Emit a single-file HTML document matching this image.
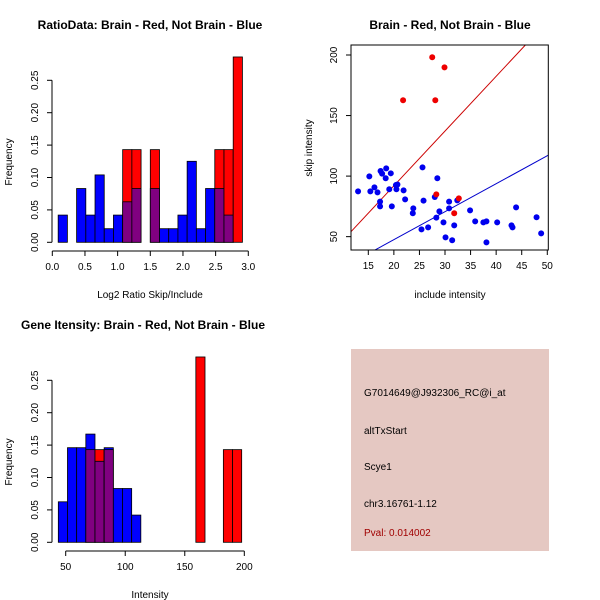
<!DOCTYPE html>
<html><head><meta charset="utf-8"><style>
body{margin:0;background:#fff}
svg{display:block;font-family:"Liberation Sans",sans-serif}
</style></head><body>
<svg id="c" width="600" height="600" viewBox="0 0 600 600">
<rect x="351" y="349" width="198" height="202" fill="#e5c8c2"/>
<g font-size="10">
<text x="364" y="396">G7014649@J932306_RC@i_at</text>
<text x="364" y="434">altTxStart</text>
<text x="364" y="470">Scye1</text>
<text x="364" y="507">chr3.16761-1.12</text>
<text x="364" y="536" fill="#a00000">Pval: 0.014002</text>
</g>
</svg>
<script>
// Top-left histogram (ratio)
const ratioBinStart = 0.09, ratioBinWidth = 0.141;
const ratioBlue = [0.042,0,0.083,0.042,0.104,0.021,0.042,0.0625,0.083,0,0.083,0.021,0.021,0.042,0.125,0.021,0.083,0.083,0.042,0];
const ratioRed  = [0,0,0,0,0,0,0,0.143,0.143,0,0.143,0,0,0,0,0,0,0.143,0.143,0.286];
const ratioXTicks = ["0.0","0.5","1.0","1.5","2.0","2.5","3.0"];
const freqTicks = ["0.00","0.05","0.10","0.15","0.20","0.25"];
// Bottom-left histogram (intensity)
const intBinStart = 43.8, intBinWidth = 7.7;
const intBlue = [0.0625,0.146,0.146,0.167,0.125,0.146,0.083,0.083,0.042,0,0,0,0,0,0,0,0,0,0,0];
const intRed  = [0,0,0,0.143,0.143,0.143,0,0,0,0,0,0,0,0,0,0.286,0,0,0.143,0.143];
const intXTicks = ["50","100","150","200"];
// Scatter
const blueX = [13.0,15.2,15.4,16.2,16.8,17.4,17.3,17.3,17.7,18.4,18.5,19.1,19.4,19.6,20.4,20.5,20.7,21.9,22.2,23.7,23.8,25.6,25.4,25.8,26.7,28.0,28.3,28.5,28.9,29.7,30.1,30.8,30.8,31.4,31.8,32.4,34.9,35.9,37.5,38.1,38.1,40.2,43.0,43.2,43.9,47.9,48.8];
const blueY = [87.4,99.8,87.4,90.7,86.6,104.2,78.9,75.0,102.0,98.2,106.4,89.1,102.3,75.0,92.6,89.1,93.1,88.2,80.8,69.3,73.4,107.2,56.0,79.7,57.7,82.7,65.7,98.2,70.9,61.8,49.4,78.9,73.4,47.0,59.3,80.0,71.7,62.6,61.8,62.6,45.3,61.8,59.3,57.7,74.2,66.0,52.7];
const redX = [27.5,29.9,21.8,28.1,28.3,32.7,31.8];
const redY = [198.1,189.8,162.6,162.6,84.9,81.6,69.3];
const redFit = [1.6,4.52];   // intercept, slope
const blueFit = [1.3,2.31];
const scXTicks = [15,20,25,30,35,40,45,50];
const scYTicks = [50,100,150,200];

const NS="http://www.w3.org/2000/svg", svg=document.getElementById('c');
function el(tag,attrs,parent){const e=document.createElementNS(NS,tag);for(const k in attrs)e.setAttribute(k,attrs[k]);(parent||svg).appendChild(e);return e;}
function txt(s,x,y,attrs,parent){const t=el('text',Object.assign({x:x,y:y,'text-anchor':'middle'},attrs||{}),parent);t.textContent=s;return t;}

function hist(g,blue,red,start,width,sx,sy,y0,name){
  for(let i=0;i<blue.length;i++){
    const a=start+i*width,b=a+width,bl=blue[i],rd=red[i];
    const x=sx(a),w=sx(b)-sx(a),mx=Math.max(bl,rd),mn=Math.min(bl,rd);
    if(mx>0){
      const r=el('rect',{x:x,y:sy(mx),width:w,height:y0-sy(mx),fill:bl>=rd?'#0000ff':'#ff0000',stroke:'#000','stroke-width':0.8},g);
      
      
    }
    if(mn>0){
      const r=el('rect',{x:x,y:sy(mn),width:w,height:y0-sy(mn),fill:'#800080',stroke:'#000','stroke-width':0.8},g);
      
      
    }
  }
}
function yAxis(g,x,sy,ticks,vals){
  el('line',{x1:x,x2:x,y1:sy(vals[0]),y2:sy(vals[vals.length-1]),stroke:'#000'},g);
  ticks.forEach((t,i)=>{const y=sy(vals[i]);el('line',{x1:x-5,x2:x,y1:y,y2:y,stroke:'#000'},g);
    txt(t,x-14,y,{'font-size':10,transform:'rotate(-90 '+(x-14)+' '+y+')'},g);});
}
function xAxis(g,y,sx,ticks,vals){
  el('line',{x1:sx(vals[0]),x2:sx(vals[vals.length-1]),y1:y,y2:y,stroke:'#000'},g);
  ticks.forEach((t,i)=>{const x=sx(vals[i]);el('line',{x1:x,x2:x,y1:y,y2:y+5,stroke:'#000'},g);txt(t,x,y+19,{'font-size':10},g);});
}
const freqVals=freqTicks.map(Number);

// Panel 1
{
 const g=el('g',{});
 const sx=v=>52.3+v*65.33, sy=v=>242.3-v*648;
 hist(g,ratioBlue,ratioRed,ratioBinStart,ratioBinWidth,sx,sy,242.3,'ratio');
 yAxis(g,52,sy,freqTicks,freqVals);
 xAxis(g,251,sx,ratioXTicks,ratioXTicks.map(Number));
 txt('RatioData: Brain - Red, Not Brain - Blue',150,29,{'font-size':12,'font-weight':'bold'},g);
 txt('Log2 Ratio Skip/Include',150,298,{'font-size':10},g);
 txt('Frequency',12,162,{'font-size':10,transform:'rotate(-90 12 162)'},g);
}
// Panel 3
{
 const g=el('g',{});
 const sx=v=>65.7+(v-50)*1.1907, sy=v=>542.3-v*648;
 hist(g,intBlue,intRed,intBinStart,intBinWidth,sx,sy,542.3,'intensity');
 yAxis(g,52,sy,freqTicks,freqVals);
 xAxis(g,551,sx,intXTicks,intXTicks.map(Number));
 txt('Gene Itensity: Brain - Red, Not Brain - Blue',143,329,{'font-size':12,'font-weight':'bold'},g);
 txt('Intensity',150,598,{'font-size':10},g);
 txt('Frequency',12,462,{'font-size':10,transform:'rotate(-90 12 462)'},g);
}
// Panel 2 scatter
{
 const g=el('g',{});
 const sx=v=>368.3+(v-15)*5.114, sy=v=>55+(200-v)*1.211;
 const L=351,R=548.3,T=45,B=250;
 el('defs',{},g).innerHTML='<clipPath id="cp"><rect x="'+L+'" y="'+T+'" width="'+(R-L)+'" height="'+(B-T)+'"/></clipPath>';
 const fits=[[redFit,'#cc0000','red-fit-line'],[blueFit,'#0000cc','blue-fit-line']];
 fits.forEach(f=>{const x0=10,x1=52;
   const l=el('line',{x1:sx(x0),y1:sy(f[0][0]+f[0][1]*x0),x2:sx(x1),y2:sy(f[0][0]+f[0][1]*x1),stroke:f[1],'clip-path':'url(#cp)'},g);
   
   });
 blueX.forEach((x,i)=>{const c=el('circle',{cx:sx(x),cy:sy(blueY[i]),r:3,fill:'#0000ee'},g);
   
   });
 redX.forEach((x,i)=>{const c=el('circle',{cx:sx(x),cy:sy(redY[i]),r:3,fill:'#ee0000'},g);
   
   });
 el('rect',{x:L,y:T,width:R-L,height:B-T,fill:'none',stroke:'#000'},g);
 scXTicks.forEach(v=>{const x=sx(v);el('line',{x1:x,x2:x,y1:B,y2:B+5,stroke:'#000'},g);txt(String(v),x,B+19,{'font-size':10},g);});
 scYTicks.forEach(v=>{const y=sy(v);el('line',{x1:L-5,x2:L,y1:y,y2:y,stroke:'#000'},g);txt(String(v),L-14,y,{'font-size':10,transform:'rotate(-90 '+(L-14)+' '+y+')'},g);});
 txt('Brain - Red, Not Brain - Blue',450,29,{'font-size':12,'font-weight':'bold'},g);
 txt('include intensity',450,298,{'font-size':10},g);
 txt('skip intensity',312,148,{'font-size':10,transform:'rotate(-90 312 148)'},g);
}
</script>
</body></html>
